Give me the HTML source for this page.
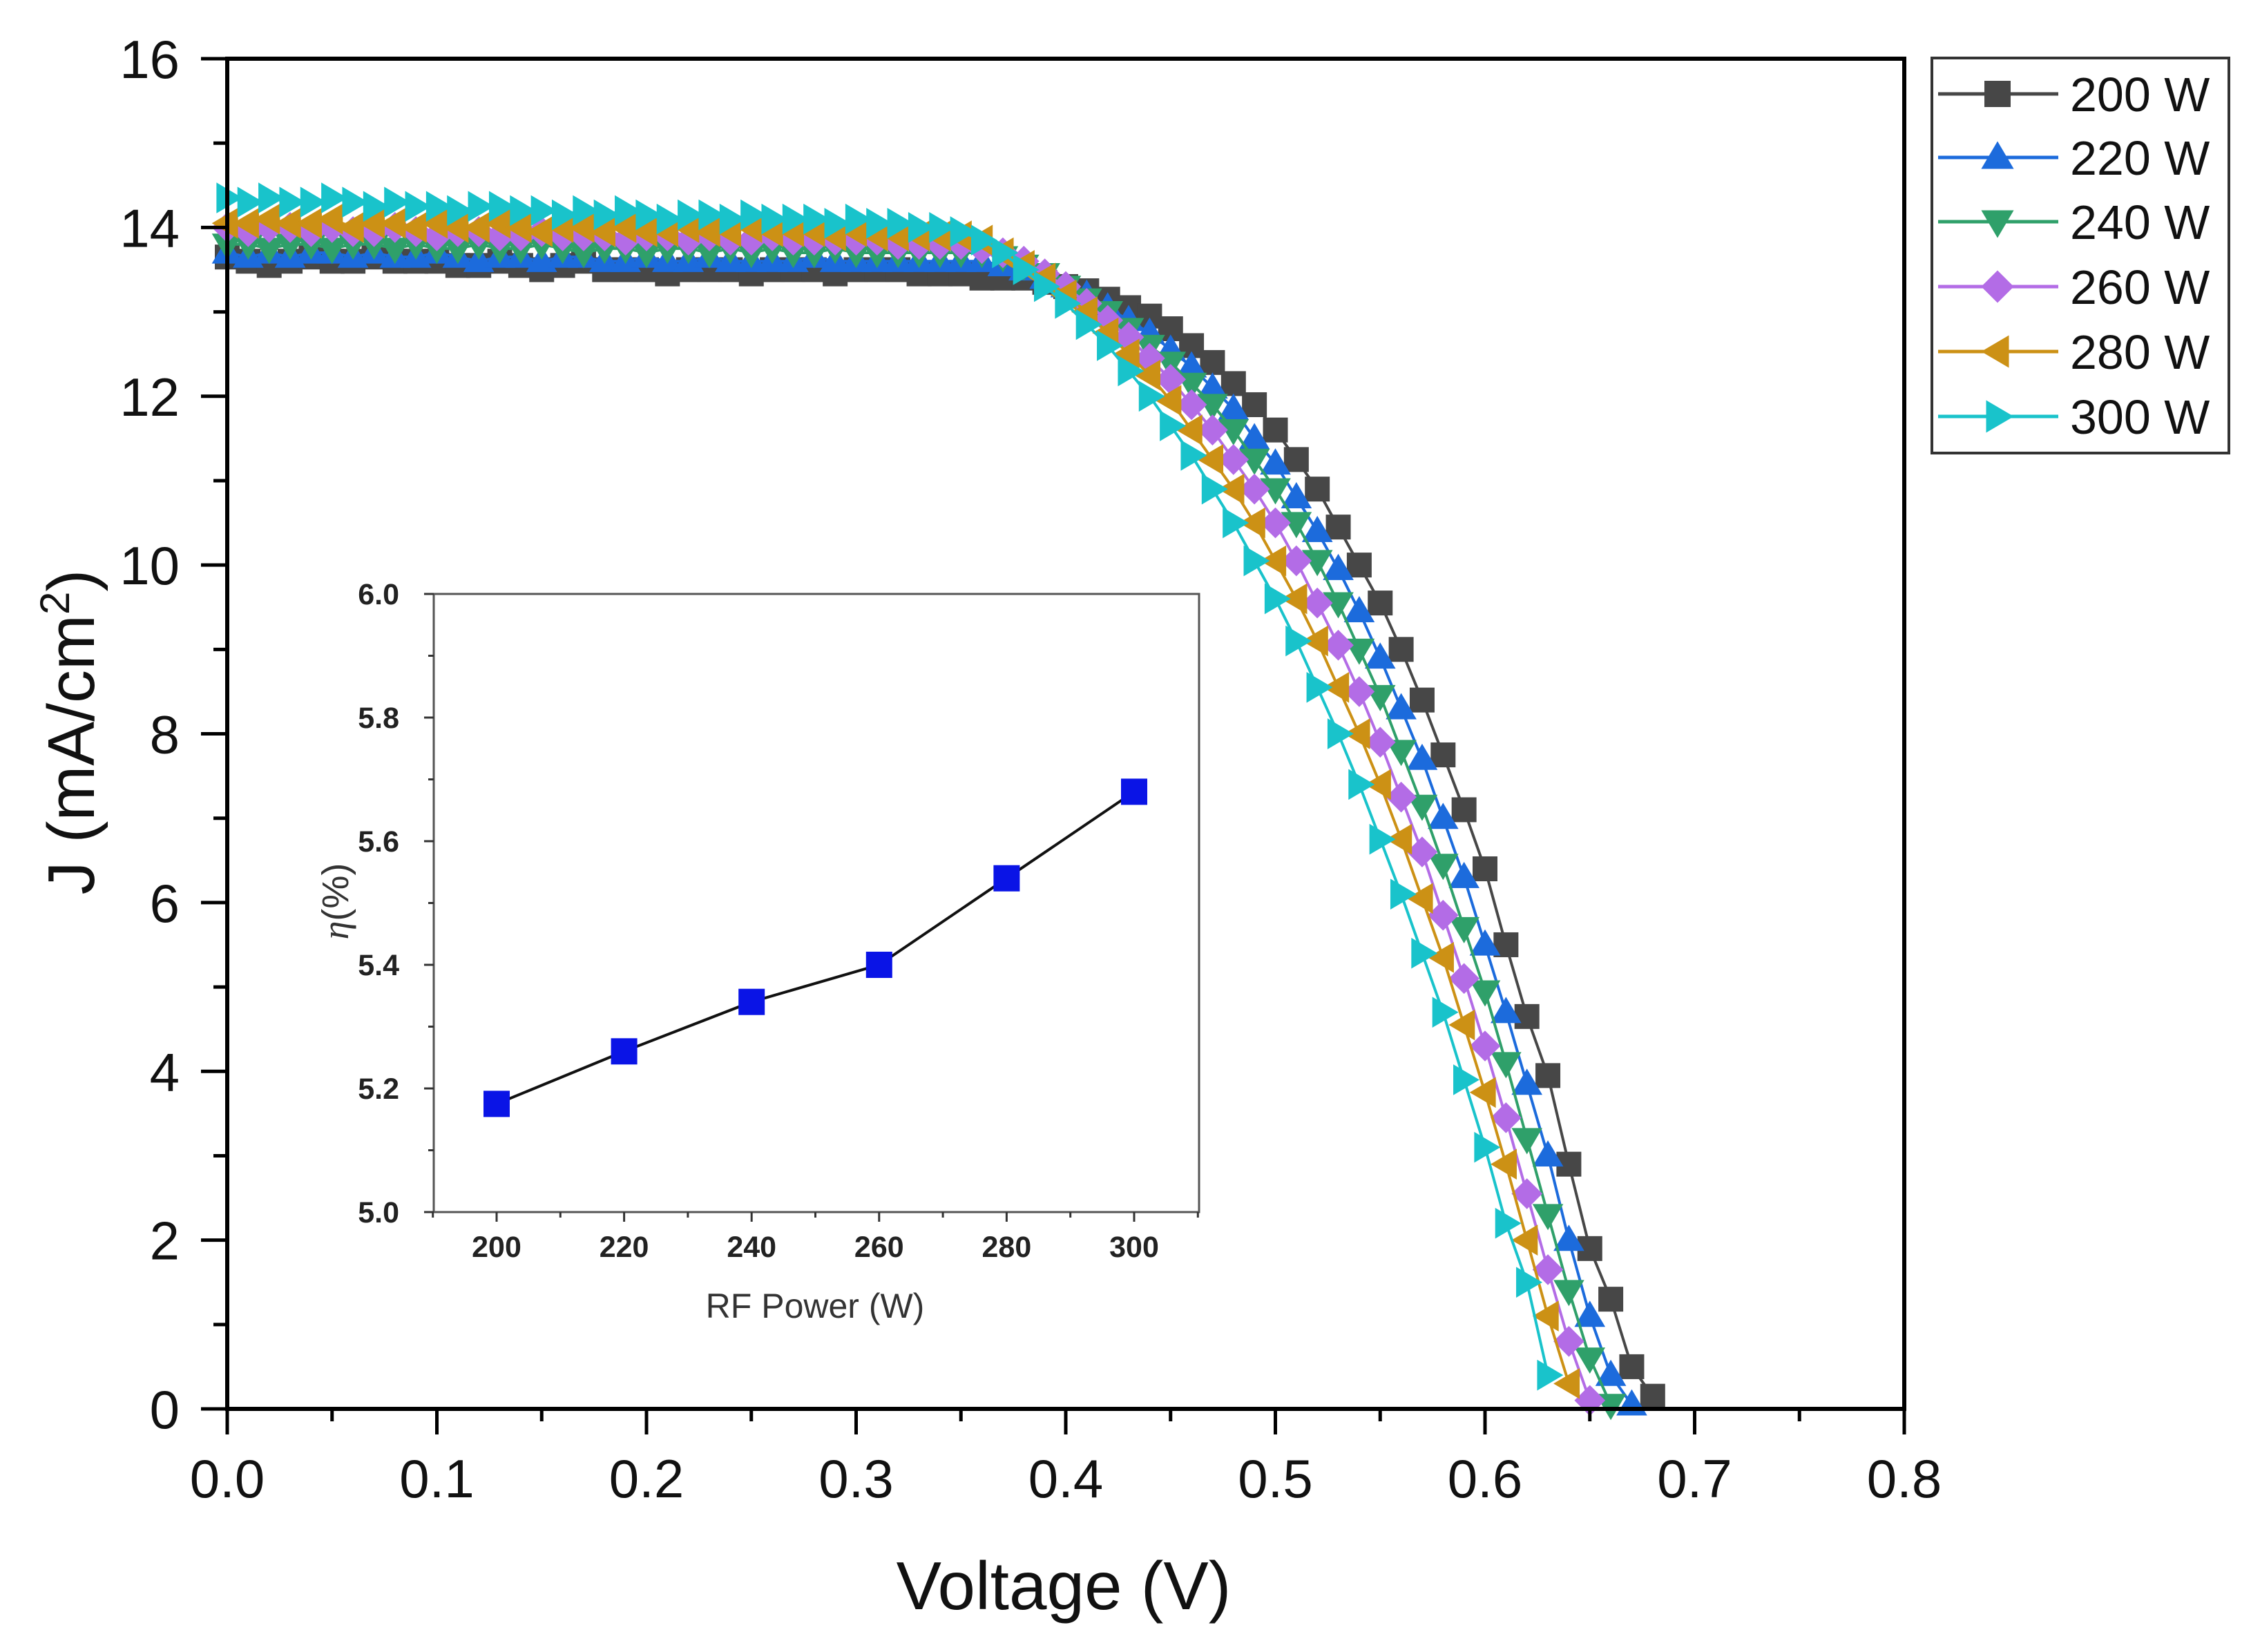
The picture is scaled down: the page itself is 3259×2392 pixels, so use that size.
<!DOCTYPE html>
<html><head><meta charset="utf-8"><style>
html,body{margin:0;padding:0;background:#fff;}
svg{display:block;font-family:"Liberation Sans",Arial,sans-serif;}
</style></head><body>
<svg id="chart" width="3259" height="2392" viewBox="0 0 3259 2392" xmlns="http://www.w3.org/2000/svg">
<rect width="3259" height="2392" fill="#fff"/>
<g id="series"></g>
<g id="axes"></g>
<g id="inset"></g>
<g id="legend"></g>
</svg>
<script>
const voltages = [0.00,0.01,0.02,0.03,0.04,0.05,0.06,0.07,0.08,0.09,0.10,0.11,0.12,0.13,0.14,0.15,0.16,0.17,0.18,0.19,0.20,0.21,0.22,0.23,0.24,0.25,0.26,0.27,0.28,0.29,0.30,0.31,0.32,0.33,0.34,0.35,0.36,0.37,0.38,0.39,0.40,0.41,0.42,0.43,0.44,0.45,0.46,0.47,0.48,0.49,0.50,0.51,0.52,0.53,0.54,0.55,0.56,0.57,0.58,0.59,0.60,0.61,0.62,0.63,0.64,0.65,0.66,0.67,0.68];
const seriesNames = ["200 W","220 W","240 W","260 W","280 W","300 W"];
const j200 = [13.65,13.6,13.55,13.6,13.65,13.6,13.6,13.65,13.6,13.6,13.6,13.55,13.55,13.6,13.55,13.5,13.55,13.6,13.5,13.5,13.5,13.45,13.5,13.5,13.5,13.45,13.5,13.5,13.5,13.45,13.5,13.5,13.5,13.45,13.45,13.45,13.4,13.4,13.4,13.35,13.3,13.25,13.15,13.05,12.95,12.8,12.6,12.4,12.15,11.9,11.6,11.25,10.9,10.45,10.0,9.55,9.0,8.4,7.75,7.1,6.4,5.5,4.65,3.95,2.9,1.9,1.3,0.5,0.15];
const j220 = [13.7,13.65,13.7,13.65,13.7,13.7,13.65,13.7,13.65,13.65,13.7,13.65,13.6,13.65,13.65,13.6,13.65,13.65,13.6,13.6,13.65,13.6,13.6,13.65,13.6,13.6,13.6,13.6,13.65,13.6,13.6,13.6,13.6,13.6,13.6,13.6,13.6,13.55,13.5,13.4,13.3,13.2,13.05,12.9,12.75,12.55,12.35,12.1,11.85,11.5,11.2,10.8,10.4,9.95,9.45,8.9,8.3,7.7,7.0,6.3,5.5,4.7,3.85,3.0,2.0,1.1,0.4,0.05];
const j240 = [13.8,13.8,13.75,13.8,13.8,13.75,13.8,13.8,13.75,13.8,13.75,13.75,13.8,13.75,13.75,13.8,13.75,13.7,13.75,13.75,13.7,13.75,13.75,13.7,13.75,13.7,13.75,13.7,13.7,13.75,13.7,13.7,13.7,13.7,13.7,13.7,13.7,13.65,13.55,13.45,13.3,13.15,13.0,12.8,12.6,12.4,12.15,11.9,11.6,11.25,10.9,10.5,10.05,9.55,9.0,8.45,7.8,7.15,6.45,5.7,4.95,4.1,3.2,2.3,1.4,0.6,0.05];
const j260 = [14.0,13.95,14.0,14.0,13.95,14.0,13.95,13.95,14.0,13.95,13.9,13.95,13.95,13.9,13.9,13.95,13.9,13.9,13.9,13.85,13.9,13.9,13.85,13.9,13.85,13.85,13.9,13.85,13.85,13.85,13.85,13.85,13.8,13.8,13.8,13.8,13.75,13.7,13.6,13.45,13.3,13.1,12.9,12.7,12.45,12.2,11.9,11.6,11.25,10.9,10.5,10.05,9.55,9.05,8.5,7.9,7.25,6.6,5.85,5.1,4.3,3.45,2.55,1.65,0.8,0.1];
const j280 = [14.05,14.05,14.1,14.05,14.05,14.1,14.0,14.05,14.05,14.0,14.05,14.0,14.0,14.05,14.0,13.95,14.0,14.0,13.95,14.0,13.95,13.95,14.0,13.95,13.95,14.0,13.95,13.95,13.95,13.9,13.95,13.9,13.9,13.9,13.9,13.9,13.85,13.7,13.55,13.4,13.2,13.0,12.75,12.5,12.25,11.95,11.6,11.25,10.9,10.5,10.05,9.6,9.1,8.55,8.0,7.4,6.75,6.05,5.35,4.55,3.75,2.9,2.0,1.1,0.3];
const j300 = [14.35,14.3,14.35,14.3,14.3,14.35,14.3,14.25,14.3,14.25,14.25,14.2,14.25,14.25,14.2,14.2,14.15,14.2,14.15,14.2,14.15,14.1,14.15,14.15,14.1,14.15,14.1,14.1,14.1,14.05,14.1,14.05,14.05,14.0,14.0,13.95,13.85,13.7,13.5,13.3,13.1,12.85,12.6,12.3,12.0,11.65,11.3,10.9,10.5,10.05,9.6,9.1,8.55,8.0,7.4,6.75,6.1,5.4,4.7,3.9,3.1,2.2,1.5,0.4];
const xTicks = ["0.0","0.1","0.2","0.3","0.4","0.5","0.6","0.7","0.8"];
const yTicks = ["0","2","4","6","8","10","12","14","16"];
const insetPower = [200,220,240,260,280,300];
const insetEff = [5.175,5.26,5.34,5.40,5.54,5.68];
const insetXTicks = ["200","220","240","260","280","300"];
const insetYTicks = ["5.0","5.2","5.4","5.6","5.8","6.0"];

const NS="http://www.w3.org/2000/svg";
function mk(tag, attrs, parent){const e=document.createElementNS(NS,tag);for(const k in attrs)e.setAttribute(k,attrs[k]);parent.appendChild(e);return e;}
const L=329,R=2757,T=85,B=2040;
const xs=v=>L+(v/0.8)*(R-L);
const ys=j=>B-(j/16)*(B-T);
const colors=["#474747","#1c6bdc","#2fa06a","#b36ce6","#cc9115","#19c3cb"];
const shapes=["square","up","down","diamond","left","right"];
const allJ=[j200,j220,j240,j260,j280,j300];

function marker(g,shape,x,y,s,c){
  let p;
  if(shape==="square") p=mk("rect",{x:x-s*0.5,y:y-s*0.5,width:s,height:s,fill:c},g);
  else {
    const h=s*0.62;let pts;
    if(shape==="up") pts=[[x,y-h],[x+h,y+h*0.7],[x-h,y+h*0.7]];
    if(shape==="down") pts=[[x,y+h],[x+h,y-h*0.7],[x-h,y-h*0.7]];
    if(shape==="left") pts=[[x-h,y],[x+h*0.7,y-h],[x+h*0.7,y+h]];
    if(shape==="right") pts=[[x+h,y],[x-h*0.7,y-h],[x-h*0.7,y+h]];
    if(shape==="diamond") pts=[[x,y-h],[x+h,y],[x,y+h],[x-h,y]];
    p=mk("polygon",{points:pts.map(q=>q.join(",")).join(" "),fill:c},g);
  }
  return p;
}

const sg=document.getElementById("series");
allJ.forEach((arr,si)=>{
  const g=mk("g",{},sg);
  
  
  const d=arr.map((j,i)=>(i?"L":"M")+xs(voltages[i]).toFixed(1)+" "+ys(j).toFixed(1)).join(" ");
  const ln=mk("path",{d:d,fill:"none",stroke:colors[si],"stroke-width":4},g);
  
  
  arr.forEach((j,i)=>{
    const m=marker(g,shapes[si],xs(voltages[i]),ys(j),36,colors[si]);
    
    
  });
});

const ag=document.getElementById("axes");
const frame=mk("rect",{x:L,y:T,width:R-L,height:B-T,fill:"none",stroke:"#000","stroke-width":6},ag);


for(let i=0;i<=16;i++){
  const v=i*0.05, x=xs(v), maj=i%2===0;
  mk("line",{x1:x,y1:B,x2:x,y2:B+(maj?37:18),stroke:"#000","stroke-width":5},ag);
  if(maj){const t=mk("text",{x:x,y:2168,"font-size":78,"text-anchor":"middle",fill:"#111"},ag);t.textContent=xTicks[i/2];
    
    }
}
for(let i=0;i<=16;i++){
  const y=ys(i), maj=i%2===0;
  mk("line",{x1:L,y1:y,x2:L-(maj?38:20),y2:y,stroke:"#000","stroke-width":5},ag);
  if(maj){const t=mk("text",{x:260,y:y+28,"font-size":78,"text-anchor":"end",fill:"#111"},ag);t.textContent=yTicks[i/2];
    
    }
}
const xt=mk("text",{x:1540,y:2330,"font-size":98,"text-anchor":"middle",fill:"#111"},ag);xt.textContent="Voltage (V)";


const yt=mk("text",{x:0,y:0,"font-size":96,"text-anchor":"middle",fill:"#111",transform:"translate(136,1060) rotate(-90)"},ag);
yt.innerHTML='J (mA/cm<tspan dy="-36" font-size="60">2</tspan><tspan dy="36">)</tspan>';



// inset
const ig=document.getElementById("inset");
const IL=628,IR=1736,IT=860,IB=1755;
const ix=p=>719+(p-200)/100*(1642-719);
const iy=e=>IB-(e-5)/1*(IB-IT);
const ifr=mk("rect",{x:IL,y:IT,width:IR-IL,height:IB-IT,fill:"#fff",stroke:"#555","stroke-width":3},ig);


for(let p=190;p<=310;p+=10){
  const x=ix(p), maj=(p%20===0)&&p>=200&&p<=300;
  mk("line",{x1:x,y1:IB,x2:x,y2:IB+(maj?14:8),stroke:"#333","stroke-width":3},ig);
}
insetXTicks.forEach((s,i)=>{const t=mk("text",{x:ix(insetPower[0]+i*20),y:1820,"font-size":43,"font-weight":"bold","text-anchor":"middle",fill:"#222"},ig);t.textContent=s;
  
  });
for(let k=0;k<=10;k++){
  const y=iy(5+k*0.1), maj=k%2===0;
  mk("line",{x1:IL,y1:y,x2:IL-(maj?14:8),y2:y,stroke:"#333","stroke-width":3},ig);
}
insetYTicks.forEach((s,i)=>{const t=mk("text",{x:578,y:iy(5+i*0.2)+15,"font-size":43,"font-weight":"bold","text-anchor":"end",fill:"#222"},ig);t.textContent=s;
  
  });
const il=mk("path",{d:insetPower.map((p,i)=>(i?"L":"M")+ix(p)+" "+iy(insetEff[i])).join(" "),fill:"none",stroke:"#111","stroke-width":4},ig);


insetPower.forEach((p,i)=>{const r=mk("rect",{x:ix(p)-19,y:iy(insetEff[i])-19,width:38,height:38,fill:"#0a14e6"},ig);
  
  });
const ixt=mk("text",{x:1180,y:1908,"font-size":50,"text-anchor":"middle",fill:"#333"},ig);ixt.textContent="RF Power (W)";


const iyt=mk("text",{x:0,y:0,"font-size":54,"text-anchor":"middle",fill:"#333",transform:"translate(504,1305) rotate(-90)"},ig);
iyt.innerHTML='<tspan font-family="Liberation Serif,serif" font-style="italic">η</tspan>(%)';



// legend
const lg=document.getElementById("legend");
const lb=mk("rect",{x:2797,y:84,width:430,height:572,fill:"#fff",stroke:"#333","stroke-width":4},lg);


const rowsY=[136,228,321,415,509,603];
seriesNames.forEach((n,i)=>{
  const g=mk("g",{},lg);
  
  
  mk("line",{x1:2806,y1:rowsY[i],x2:2980,y2:rowsY[i],stroke:colors[i],"stroke-width":5},g);
  marker(g,shapes[i],2892,rowsY[i],38,colors[i]);
  const t=mk("text",{x:2997,y:rowsY[i]+25,"font-size":70,fill:"#111"},g);t.textContent=n;
});
</script>
</body></html>
